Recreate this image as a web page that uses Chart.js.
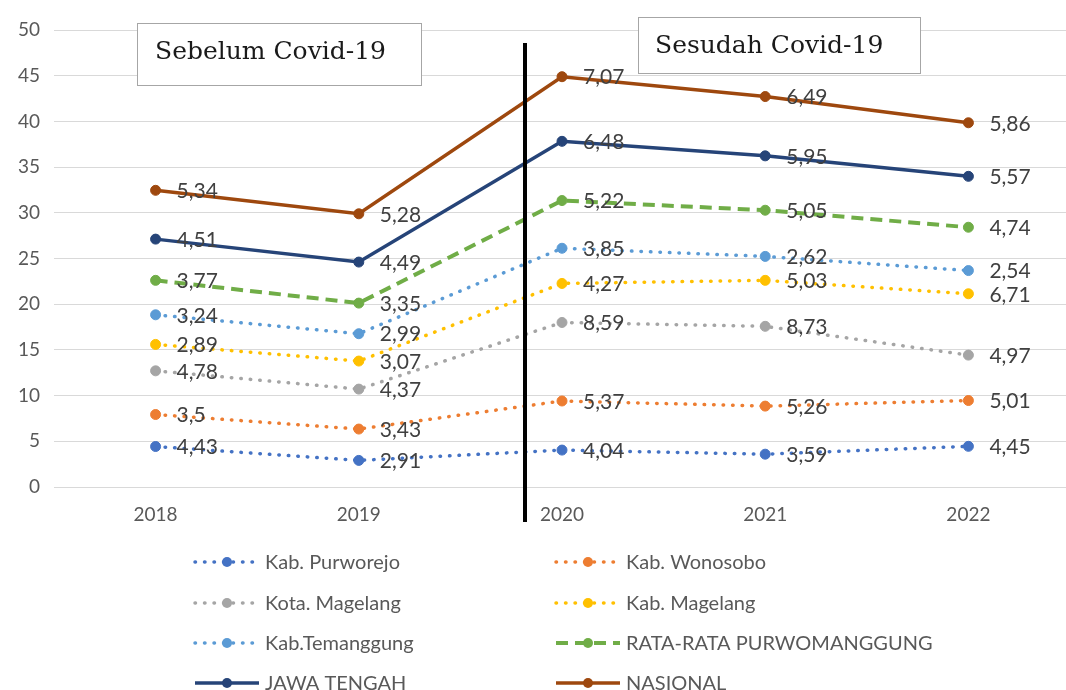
<!DOCTYPE html>
<html>
<head>
<meta charset="utf-8">
<script src="https://cdn.jsdelivr.net/npm/chart.js@4"></script>
<style>
html, body { margin: 0; padding: 0; background: #fff; overflow: hidden; }
#wrap { width: 1066px; height: 690px; overflow: hidden; }
</style>
</head>
<body>
<div id="wrap"><canvas id="grafico" width="1076" height="690"></canvas></div>
<script>
const tahun = ['2018', '2019', '2020', '2021', '2022'];
const purworejo = [4.43, 2.91, 4.04, 3.59, 4.45];
const wonosobo = [3.5, 3.43, 5.37, 5.26, 5.01];
const kotaMagelang = [4.78, 4.37, 8.59, 8.73, 4.97];
const kabMagelang = [2.89, 3.07, 4.27, 5.03, 6.71];
const temanggung = [3.24, 2.99, 3.85, 2.62, 2.54];
const rataRata = [3.77, 3.35, 5.22, 5.05, 4.74];
const jawaTengah = [4.51, 4.49, 6.48, 5.95, 5.57];
const nasional = [5.34, 5.28, 7.07, 6.49, 5.86];
const ticksY = [0, 5, 10, 15, 20, 25, 30, 35, 40, 45, 50];

const grafico = document.getElementById('grafico');
const fuente = 'Lato, "Liberation Sans", sans-serif';

const serie = (label, data, color, tipo) => {
    const ds = {
        label: label,
        data: data,
        borderColor: color,
        backgroundColor: color,
        pointBackgroundColor: color,
        pointBorderColor: color,
        pointRadius: 5,
        pointBorderWidth: 1,
        fill: false,
        tension: 0,
        tipo: tipo
    };
    if (tipo === 'dot') {
        ds.borderWidth = 3.5;
        ds.borderDash = [0.5, 9];
        ds.borderCapStyle = 'round';
    } else if (tipo === 'dash') {
        ds.borderWidth = 4;
        ds.borderDash = [12, 7];
    } else {
        ds.borderWidth = 3.5;
    }
    return ds;
};

const formato = (v) => String(v).replace('.', ',');

// etiquetas, cajas de texto, linea vertical y leyenda en dos columnas
const extras = {
    id: 'extras',
    afterDatasetsDraw(chart) {
        const ctx = chart.ctx;
        const x = chart.scales.x;
        ctx.save();
        // linea vertical
        ctx.strokeStyle = '#000';
        ctx.lineWidth = 4;
        ctx.beginPath();
        const xv = Math.round(x.getPixelForValue(1.82));
        ctx.moveTo(xv, 43);
        ctx.lineTo(xv, 522);
        ctx.stroke();

        // etiquetas de datos
        ctx.font = '21px ' + fuente;
        ctx.fillStyle = '#404040';
        ctx.textAlign = 'left';
        ctx.textBaseline = 'middle';
        chart.data.datasets.forEach((ds, i) => {
            const meta = chart.getDatasetMeta(i);
            meta.data.forEach((pt, j) => {
                ctx.fillText(formato(ds.data[j]), pt.x + 21, pt.y + 1);
            });
        });

        // cajas
        const caja = (texto, bx, by, bw, bh, tx, ty) => {
            ctx.fillStyle = '#fff';
            ctx.fillRect(bx, by, bw, bh);
            ctx.strokeStyle = '#a6a6a6';
            ctx.lineWidth = 1;
            ctx.setLineDash([]);
            ctx.strokeRect(bx + 0.5, by + 0.5, bw, bh);
            ctx.fillStyle = '#1a1a1a';
            ctx.font = '25px "DejaVu Serif", serif';
            ctx.textBaseline = 'alphabetic';
            ctx.fillText(texto, tx, ty);
        };
        caja('Sebelum Covid-19', 137, 23, 284, 62, 155, 59);
        caja('Sesudah Covid-19', 638, 17, 282, 56, 655, 53);

        // leyenda
        const filas = [562, 603, 643, 683];
        const cols = [195, 556];
        chart.data.datasets.forEach((ds, i) => {
            const lx = cols[i % 2];
            const ly = filas[Math.floor(i / 2)];
            ctx.strokeStyle = ds.borderColor;
            ctx.lineWidth = ds.borderWidth;
            ctx.lineCap = ds.borderCapStyle || 'butt';
            ctx.setLineDash(ds.borderDash || []);
            ctx.beginPath();
            ctx.moveTo(lx, ly);
            ctx.lineTo(lx + 64, ly);
            ctx.stroke();
            ctx.setLineDash([]);
            ctx.fillStyle = ds.borderColor;
            ctx.beginPath();
            ctx.arc(lx + 32, ly, 5, 0, Math.PI * 2);
            ctx.fill();
            ctx.fillStyle = '#595959';
            ctx.font = '20px ' + fuente;
            ctx.textBaseline = 'middle';
            ctx.fillText(ds.label, lx + 70, ly + 1);
        });
        ctx.restore();
    }
};

new Chart(grafico, {
    type: 'line',
    data: {
        labels: tahun,
        datasets: [
            serie('Kab. Purworejo', purworejo, '#4472c4', 'dot'),
            serie('Kab. Wonosobo', wonosobo, '#ed7d31', 'dot'),
            serie('Kota. Magelang', kotaMagelang, '#a5a5a5', 'dot'),
            serie('Kab. Magelang', kabMagelang, '#ffc000', 'dot'),
            serie('Kab.Temanggung', temanggung, '#5b9bd5', 'dot'),
            serie('RATA-RATA PURWOMANGGUNG', rataRata, '#70ad47', 'dash'),
            serie('JAWA TENGAH', jawaTengah, '#264478', 'solid'),
            serie('NASIONAL', nasional, '#9e480e', 'solid')
        ]
    },
    options: {
        responsive: false,
        animation: false,
        devicePixelRatio: 1,
        layout: { padding: { top: 30, right: 2, bottom: 163, left: 0 } },
        plugins: {
            legend: { display: false },
            tooltip: { enabled: false }
        },
        scales: {
            x: {
                offset: true,
                grid: { display: false, drawTicks: false },
                border: { display: false },
                ticks: { color: '#595959', font: { family: fuente, size: 19 }, padding: 16 },
                afterFit: (s) => { s.height = 40; }
            },
            y: {
                stacked: true,
                min: 0,
                max: 50,
                afterBuildTicks: (s) => { s.ticks = ticksY.map(v => ({ value: v })); },
                grid: { color: '#d9d9d9', lineWidth: 1, drawTicks: false },
                border: { display: false },
                ticks: { color: '#595959', font: { family: fuente, size: 19 }, padding: 14 },
                afterFit: (s) => { s.width = 54; }
            }
        }
    },
    plugins: [extras]
});
</script>
</body>
</html>
